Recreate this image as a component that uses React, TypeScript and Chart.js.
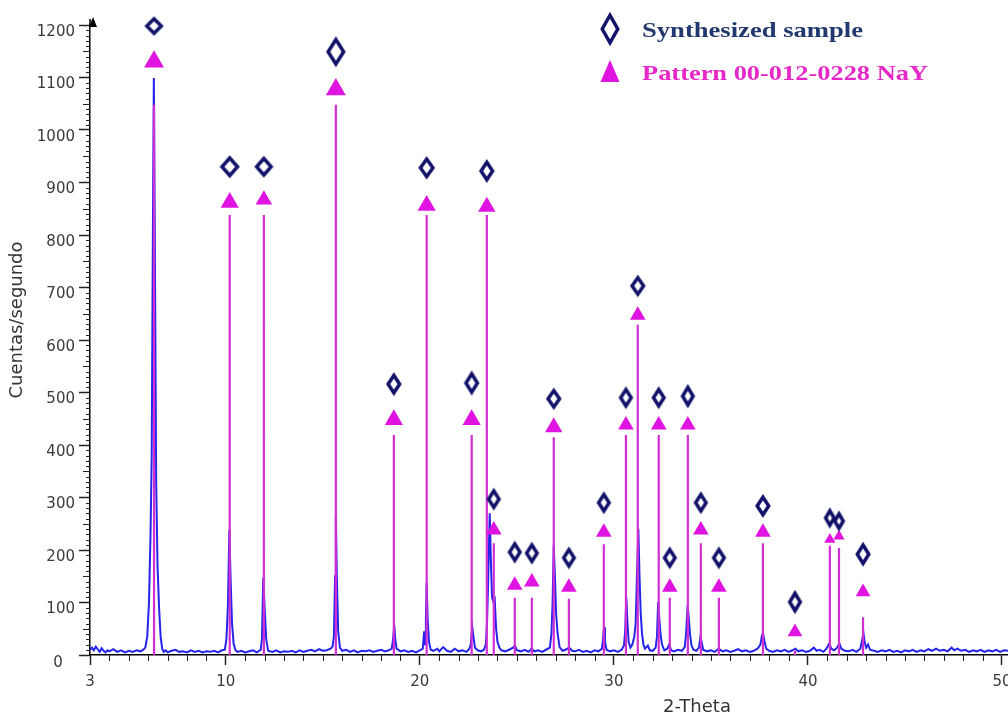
import React, { useEffect, useRef } from 'react';
import { Chart, registerables } from 'chart.js';

Chart.register(...registerables);

// ---------- data ----------
const xTickValues = [3, 10, 20, 30, 40, 50];
const yTickValues = [0, 100, 200, 300, 400, 500, 600, 700, 800, 900, 1000, 1100, 1200];

const legendLabels = ['Synthesized sample', 'Pattern 00-012-0228 NaY'];
const xAxisTitle = '2-Theta';
const yAxisTitle = 'Cuentas/segundo';

// reference pattern (stick) positions in 2-theta and intensities
const patternPositions = [6.30, 10.20, 11.96, 15.67, 18.66, 20.35, 22.67, 23.45, 23.81, 24.89, 25.77, 26.90, 27.68, 29.48, 30.62, 31.23, 32.31, 32.88, 33.81, 34.48, 35.41, 37.68, 39.33, 41.13, 41.60, 42.84];
const patternIntensities = [1048, 838, 838, 1048, 419, 838, 419, 838, 213, 109, 109, 415, 107, 211, 419, 629, 419, 109, 419, 213, 109, 213, 8, 208, 204, 72];
// marker levels (triangle = pattern marker, diamond = synthesized sample marker)
const triangleLevels = [1130, 862, 867, 1077, 448, 856, 448, 854, 238, 133, 139, 434, 129, 234, 438, 647, 438, 129, 438, 238, 129, 234, 44, 220, 226, 120];
const diamondLevels = [1198, 930, 930, 1149, 516, 928, 518, 922, 297, 196, 194, 488, 185, 290, 490, 703, 490, 185, 493, 290, 185, 284, 101, 261, 255, 192];

// measured diffractogram of the synthesized sample [2-theta, counts/s]
const sampleTrace: [number, number][] = [
  [3.0, 10], [3.1, 14], [3.2, 9], [3.3, 16], [3.4, 11], [3.5, 6], [3.6, 13], [3.7, 8], [3.8, 5], [3.9, 9],
  [4.0, 7], [4.2, 11], [4.4, 6], [4.6, 9], [4.8, 5], [5.0, 8], [5.2, 6], [5.4, 9], [5.6, 7], [5.75, 10],
  [5.85, 14], [5.95, 35], [6.04, 100], [6.12, 230], [6.18, 380], [6.24, 800], [6.29, 1099], [6.34, 800],
  [6.41, 330], [6.48, 170], [6.56, 90], [6.64, 35], [6.72, 12],
  [6.8, 6], [6.9, 9], [7.0, 5], [7.2, 8], [7.4, 10], [7.6, 6], [7.8, 7], [8.0, 5], [8.2, 9], [8.4, 6],
  [8.6, 8], [8.8, 5], [9.0, 7], [9.2, 6], [9.4, 8], [9.6, 5], [9.8, 9], [9.95, 10],
  [10.03, 30], [10.11, 95], [10.18, 238], [10.25, 140], [10.32, 60], [10.4, 22], [10.5, 9],
  [10.6, 6], [10.8, 8], [11.0, 5], [11.2, 7], [11.4, 9], [11.6, 5], [11.8, 10],
  [11.86, 30], [11.93, 147], [12.0, 90], [12.08, 30], [12.18, 8],
  [12.4, 6], [12.6, 9], [12.8, 5], [13.0, 7], [13.2, 6], [13.4, 8], [13.6, 5], [13.8, 9], [14.0, 6],
  [14.2, 8], [14.4, 10], [14.6, 7], [14.8, 11], [15.0, 8], [15.2, 9], [15.4, 12], [15.5, 16],
  [15.57, 35], [15.63, 150], [15.67, 267], [15.72, 150], [15.79, 45], [15.88, 14],
  [16.0, 8], [16.2, 10], [16.4, 6], [16.6, 9], [16.8, 5], [17.0, 8], [17.2, 7], [17.4, 9], [17.6, 6],
  [17.8, 8], [18.0, 10], [18.2, 7], [18.4, 9], [18.55, 12],
  [18.62, 30], [18.68, 57], [18.73, 30], [18.8, 12],
  [19.0, 7], [19.2, 9], [19.4, 6], [19.6, 8], [19.8, 5], [20.0, 9], [20.15, 12], [20.22, 45], [20.27, 20],
  [20.31, 70], [20.35, 137], [20.4, 70], [20.47, 25], [20.56, 10],
  [20.7, 8], [20.9, 12], [21.0, 7], [21.2, 15], [21.4, 8], [21.6, 6], [21.8, 12], [22.0, 7], [22.2, 9],
  [22.4, 6], [22.55, 12],
  [22.62, 20], [22.7, 53], [22.76, 35], [22.84, 14], [22.98, 9], [23.15, 7], [23.3, 10],
  [23.4, 20], [23.46, 60], [23.52, 140], [23.6, 270], [23.66, 180], [23.72, 110], [23.8, 100], [23.86, 105],
  [23.93, 50], [24.0, 25], [24.1, 14], [24.2, 9],
  [24.4, 7], [24.6, 10], [24.8, 14], [24.9, 18], [25.0, 9], [25.2, 7], [25.4, 10], [25.6, 6], [25.75, 12],
  [25.9, 7], [26.1, 9], [26.3, 6], [26.5, 10], [26.7, 14],
  [26.78, 40], [26.84, 100], [26.9, 210], [26.96, 150], [27.02, 80], [27.1, 40], [27.2, 15], [27.35, 8],
  [27.5, 10], [27.7, 14], [27.85, 8], [28.0, 7], [28.2, 10], [28.4, 6], [28.6, 8], [28.8, 5], [29.0, 9],
  [29.2, 7], [29.38, 12],
  [29.44, 30], [29.49, 53], [29.54, 25], [29.62, 10],
  [29.8, 7], [30.0, 9], [30.2, 6], [30.4, 10], [30.52, 18],
  [30.58, 45], [30.64, 110], [30.7, 60], [30.76, 25], [30.85, 14], [30.95, 20], [31.05, 35],
  [31.12, 60], [31.18, 140], [31.26, 240], [31.32, 150], [31.38, 80], [31.45, 40], [31.52, 20], [31.6, 12],
  [31.75, 18], [31.85, 9], [32.0, 8], [32.15, 14],
  [32.22, 35], [32.28, 101], [32.34, 70], [32.4, 40], [32.48, 20], [32.6, 9], [32.75, 12], [32.85, 20], [32.95, 9],
  [33.1, 7], [33.3, 10], [33.5, 8], [33.65, 15],
  [33.72, 40], [33.8, 95], [33.86, 70], [33.92, 40], [34.0, 18], [34.1, 10], [34.25, 8], [34.38, 14],
  [34.46, 34], [34.52, 25], [34.6, 10],
  [34.8, 7], [35.0, 9], [35.2, 6], [35.4, 12], [35.6, 7], [35.8, 9], [36.0, 6], [36.2, 8], [36.4, 11],
  [36.6, 7], [36.8, 9], [37.0, 6], [37.2, 8], [37.4, 12], [37.55, 20],
  [37.62, 35], [37.68, 42], [37.75, 28], [37.85, 12],
  [38.0, 8], [38.2, 6], [38.4, 9], [38.6, 7], [38.8, 10], [39.0, 6], [39.2, 9], [39.35, 12], [39.5, 7],
  [39.7, 9], [39.9, 6], [40.1, 8], [40.3, 14], [40.45, 8], [40.6, 10], [40.8, 6], [40.95, 12],
  [41.1, 22], [41.2, 12], [41.35, 9], [41.5, 14], [41.62, 22], [41.72, 12], [41.9, 8], [42.1, 7], [42.3, 10],
  [42.5, 6], [42.7, 12],
  [42.8, 30], [42.86, 42], [42.92, 25], [43.0, 14], [43.1, 20], [43.2, 10],
  [43.4, 8], [43.6, 6], [43.8, 9], [44.0, 7], [44.2, 10], [44.4, 6], [44.6, 8], [44.8, 5], [45.0, 9],
  [45.2, 7], [45.4, 10], [45.6, 6], [45.8, 9], [46.0, 7], [46.2, 11], [46.4, 8], [46.6, 12], [46.8, 8],
  [47.0, 10], [47.2, 7], [47.4, 14], [47.55, 9], [47.7, 12], [47.9, 8], [48.1, 10], [48.3, 6], [48.5, 9],
  [48.7, 7], [48.9, 10], [49.1, 6], [49.3, 9], [49.5, 7], [49.7, 10], [49.9, 6], [50.1, 9], [50.31, 8],
];

// ---------- styles ----------
const triangleRadii = [11.5, 10.5, 9.5, 11.5, 10.5, 10.5, 10.5, 10, 9, 9, 9, 10, 9, 9, 9, 9, 9, 9, 9, 9, 9, 9, 8.5, 6.5, 6.5, 8.5];
const diamondWidths = [18, 19, 18, 19, 15, 16, 15, 15, 14, 14, 14, 15, 14, 14, 14, 15, 14, 14, 14, 14, 14, 15, 14, 12, 12, 15];
const diamondHeights = [18, 21, 20, 28, 21, 21, 22, 21, 20, 20, 20, 20, 20, 20, 20, 20, 20, 20, 21, 20, 20, 21, 21, 18, 18, 22];

const NAVY = '#12126a';
const MAGENTA = '#e014e0';
const STICK = '#d22ed2';
const BLUE = '#2424ec';
const TEXT = '#3a3a3a';
const FONT = '"DejaVu Sans", sans-serif';

function makeDiamond(w: number, h: number, lw: number, color: string): HTMLCanvasElement {
  const c = document.createElement('canvas');
  const pad = lw + 2;
  c.width = Math.ceil(w + 2 * pad);
  c.height = Math.ceil(h + 2 * pad);
  const ctx = c.getContext('2d')!;
  ctx.strokeStyle = color;
  ctx.lineWidth = lw;
  ctx.lineJoin = 'miter';
  ctx.miterLimit = 2.5;
  const cx = c.width / 2;
  const cy = c.height / 2;
  const iw = (w - lw) / 2;
  const ih = (h - lw) / 2;
  ctx.beginPath();
  ctx.moveTo(cx, cy - ih);
  ctx.lineTo(cx + iw, cy);
  ctx.lineTo(cx, cy + ih);
  ctx.lineTo(cx - iw, cy);
  ctx.closePath();
  ctx.stroke();
  return c;
}

const extrasPlugin = {
  id: 'xrdExtras',
  afterDraw(chart: any) {
    const { ctx, chartArea, scales } = chart;
    const x = scales.x;
    const y = scales.y;
    ctx.save();
    ctx.strokeStyle = '#222';
    ctx.lineWidth = 1;
    // y minor ticks
    for (let v = 10; v < 1200; v += 10) {
      if (v % 100 === 0) continue;
      const py = Math.round(y.getPixelForValue(v)) + 0.5;
      const len = v % 50 === 0 ? 7 : 4;
      ctx.beginPath();
      ctx.moveTo(chartArea.left - len, py);
      ctx.lineTo(chartArea.left, py);
      ctx.stroke();
    }
    // x minor ticks
    for (let v = 4; v <= 50; v++) {
      if (v % 10 === 0) continue;
      const px = Math.round(x.getPixelForValue(v)) + 0.5;
      ctx.beginPath();
      ctx.moveTo(px, chartArea.bottom);
      ctx.lineTo(px, chartArea.bottom + 6);
      ctx.stroke();
    }
    // axis extension and arrow
    ctx.strokeStyle = '#000';
    ctx.lineWidth = 1.5;
    ctx.beginPath();
    ctx.moveTo(chartArea.left, chartArea.top);
    ctx.lineTo(chartArea.left, chartArea.top - 6);
    ctx.stroke();
    ctx.fillStyle = '#000';
    ctx.beginPath();
    ctx.moveTo(chartArea.left + 3, chartArea.top - 8);
    ctx.lineTo(chartArea.left - 1, chartArea.top + 2);
    ctx.lineTo(chartArea.left + 7, chartArea.top + 2);
    ctx.closePath();
    ctx.fill();

    // zero label of y axis
    ctx.fillStyle = TEXT;
    ctx.font = `15px ${FONT}`;
    ctx.textAlign = 'center';
    ctx.textBaseline = 'middle';
    ctx.fillText(String(yTickValues[0]), 58, y.getPixelForValue(0) + 8);

    // axis titles
    ctx.font = `18px ${FONT}`;
    ctx.fillStyle = '#333';
    ctx.textAlign = 'center';
    ctx.textBaseline = 'alphabetic';
    ctx.fillText(xAxisTitle, 697, 712);
    ctx.save();
    ctx.translate(22, 320);
    ctx.rotate(-Math.PI / 2);
    ctx.fillText(yAxisTitle, 0, 0);
    ctx.restore();

    // legend
    const d = makeDiamond(19, 31, 3.5, NAVY);
    ctx.drawImage(d, 610 - d.width / 2, 29 - d.height / 2);
    ctx.fillStyle = MAGENTA;
    ctx.beginPath();
    ctx.moveTo(610, 60);
    ctx.lineTo(619.5, 82);
    ctx.lineTo(600.5, 82);
    ctx.closePath();
    ctx.fill();

    const drawStretched = (text: string, x0: number, base: number, target: number, color: string) => {
      ctx.font = `bold 21px "Liberation Serif", "DejaVu Serif", serif`;
      ctx.textAlign = 'left';
      ctx.textBaseline = 'alphabetic';
      const w = ctx.measureText(text).width;
      ctx.save();
      ctx.translate(x0, base);
      ctx.scale(target / w, 1);
      ctx.fillStyle = color;
      ctx.fillText(text, 0, 0);
      ctx.restore();
    };
    drawStretched(legendLabels[0], 642, 37, 221, '#21396e');
    drawStretched(legendLabels[1], 642, 80, 286, '#e628c8');
    ctx.restore();
  },
};

export default function App() {
  const ref = useRef<HTMLCanvasElement>(null);

  useEffect(() => {
    const canvas = ref.current;
    if (!canvas) return;

    const stickData: { x: number; y: number | null }[] = [];
    patternPositions.forEach((p, i) => {
      stickData.push({ x: p, y: 0 });
      stickData.push({ x: p, y: patternIntensities[i] });
      stickData.push({ x: p, y: null });
    });
    const triData = patternPositions.map((p, i) => ({ x: p, y: triangleLevels[i] }));
    const diaData = patternPositions.map((p, i) => ({ x: p, y: diamondLevels[i] }));
    const diaStyles = patternPositions.map((_, i) => makeDiamond(diamondWidths[i], diamondHeights[i], 3.5, NAVY));
    const traceData = sampleTrace.map(([a, b]) => ({ x: a, y: b }));

    const chart = new Chart(canvas, {
      type: 'scatter',
      data: {
        datasets: [
          {
            type: 'scatter',
            label: legendLabels[0] + ' markers',
            data: diaData,
            pointStyle: diaStyles as any,
            pointRadius: 8,
            order: 0,
            clip: false as any,
          },
          {
            type: 'scatter',
            label: legendLabels[1] + ' markers',
            data: triData,
            pointStyle: 'triangle',
            pointRadius: triangleRadii,
            backgroundColor: MAGENTA,
            borderColor: MAGENTA,
            borderWidth: 0,
            order: 1,
            clip: false as any,
          },
          {
            type: 'line',
            label: legendLabels[1],
            data: stickData as any,
            borderColor: STICK,
            borderWidth: 2.2,
            pointRadius: 0,
            spanGaps: false,
            tension: 0,
            order: 2,
          },
          {
            type: 'line',
            label: legendLabels[0],
            data: traceData,
            borderColor: BLUE,
            borderWidth: 2,
            pointRadius: 0,
            tension: 0,
            order: 3,
          },
        ],
      },
      options: {
        animation: false,
        responsive: false,
        devicePixelRatio: 1,
        events: [],
        layout: { autoPadding: false, padding: { top: 25, right: 0, left: 0, bottom: 0 } },
        plugins: {
          legend: { display: false },
          tooltip: { enabled: false },
          title: { display: false },
        },
        scales: {
          x: {
            type: 'linear',
            position: 'bottom',
            min: 3,
            max: 50.31,
            grid: {
              display: true,
              drawOnChartArea: false,
              drawTicks: true,
              tickLength: 10,
              tickColor: '#222',
              tickWidth: 1.5,
            },
            border: { display: true, color: '#000', width: 1.5 },
            ticks: {
              autoSkip: false,
              maxRotation: 0,
              padding: 8,
              color: TEXT,
              font: { family: FONT, size: 15 },
            },
            afterBuildTicks: (s: any) => {
              s.ticks = xTickValues.map((v) => ({ value: v }));
            },
            afterFit: (s: any) => {
              s.height = 60;
              s.paddingLeft = 0;
              s.paddingRight = 0;
            },
          },
          y: {
            type: 'linear',
            min: 0,
            max: 1200,
            grid: {
              display: true,
              drawOnChartArea: false,
              drawTicks: true,
              tickLength: 11,
              tickColor: '#222',
              tickWidth: 1.5,
            },
            border: { display: true, color: '#000', width: 1.5 },
            ticks: {
              autoSkip: false,
              padding: 4,
              labelOffset: 7,
              color: TEXT,
              font: { family: FONT, size: 15 },
              callback: (v: any) => (v === 0 ? '' : String(v)),
            },
            afterBuildTicks: (s: any) => {
              s.ticks = yTickValues.map((v) => ({ value: v }));
            },
            afterFit: (s: any) => {
              s.width = 90;
              s.paddingTop = 0;
              s.paddingBottom = 0;
            },
          },
        },
      },
      plugins: [extrasPlugin],
    });

    return () => chart.destroy();
  }, []);

  return (
    <div style={{ position: 'fixed', left: 0, top: 0, width: 1008, height: 715, background: '#fff' }}>
      <canvas ref={ref} width={1008} height={715} style={{ display: 'block', width: 1008, height: 715 }} />
    </div>
  );
}
